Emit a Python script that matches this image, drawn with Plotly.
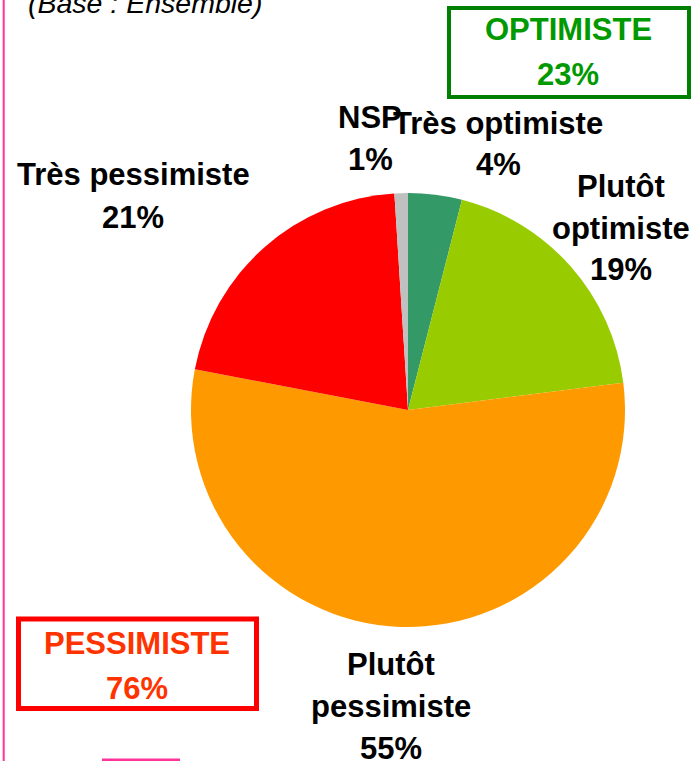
import plotly.graph_objects as go

# ---- data ----
categories = ["Très optimiste", "Plutôt optimiste", "Plutôt pessimiste", "Très pessimiste", "NSP"]
values = [4, 19, 55, 21, 1]
wrap_label = [False, True, True, False, False]
group_names = ["OPTIMISTE", "PESSIMISTE"]
group_values = [23, 76]
base_text = "(Base : Ensemble)"

# ---- style ----
W, H = 695, 761
colors = ["#339966", "#99cc00", "#ff9900", "#ff0000", "#c0c0c0"]
FONT = "Liberation Sans, Arial, sans-serif"
FS = 31
LINE = 42
label_pos = [(498, 123), (621, 186), (391, 664), (133, 175), (370, 117)]


def px(x):
    return x / W


def py(y):
    return 1 - y / H


cx, cy, r = 408, 410, 217

fig = go.Figure(go.Pie(
    labels=categories,
    values=values,
    sort=False,
    direction="clockwise",
    rotation=0,
    textinfo="none",
    hoverinfo="label+percent",
    marker=dict(colors=colors, line=dict(width=0)),
    domain=dict(x=[px(cx - r), px(cx + r)], y=[py(cy + r), py(cy - r)]),
    showlegend=False,
))

annotations = []


def add_text(text, x, y, color="#000000", size=FS, bold=True, italic=False):
    t = text
    if bold:
        t = "<b>" + t + "</b>"
    if italic:
        t = "<i>" + t + "</i>"
    annotations.append(dict(
        text=t, x=px(x), y=py(y), xref="paper", yref="paper",
        xanchor="center", yanchor="middle", showarrow=False,
        font=dict(family=FONT, size=size, color=color),
    ))


# NSP first so "Très optimiste" is drawn on top
order = [4, 0, 1, 2, 3]
for i in order:
    name = categories[i]
    lines = name.split(" ") if wrap_label[i] else [name]
    lines = lines + [f"{values[i]}%"]
    x0, y0 = label_pos[i]
    for k, ln in enumerate(lines):
        add_text(ln, x0, y0 + k * LINE)

# group boxes
add_text(group_names[0], 568, 30, color="#009900")
add_text(f"{group_values[0]}%", 568, 75, color="#009900")
add_text(group_names[1], 137, 643, color="#ff3300")
add_text(f"{group_values[1]}%", 137, 688, color="#ff3300")

# base text (cut at top)
add_text(base_text, 145, 3, size=28.5, bold=False, italic=True)

shapes = [
    dict(type="rect", xref="paper", yref="paper",
         x0=px(449), x1=px(689), y0=py(8), y1=py(97),
         line=dict(color="#008000", width=4)),
    dict(type="rect", xref="paper", yref="paper",
         x0=px(18.5), x1=px(256.5), y0=py(619), y1=py(708.5),
         line=dict(color="#ff0000", width=5)),
    dict(type="line", xref="paper", yref="paper",
         x0=px(3.7), x1=px(3.7), y0=0, y1=1,
         line=dict(color="#ff3399", width=2)),
    dict(type="rect", xref="paper", yref="paper",
         x0=px(102), x1=px(180), y0=py(761), y1=py(758.5),
         line=dict(width=0), fillcolor="#ff3399"),
]

fig.update_layout(
    width=W, height=H,
    margin=dict(l=0, r=0, t=0, b=0),
    paper_bgcolor="#ffffff",
    plot_bgcolor="#ffffff",
    annotations=annotations,
    shapes=shapes,
)

fig.write_html(
    "out.html",
    config={"displayModeBar": False},
    post_script="document.body.style.margin='0';document.body.style.overflow='hidden';",
)
